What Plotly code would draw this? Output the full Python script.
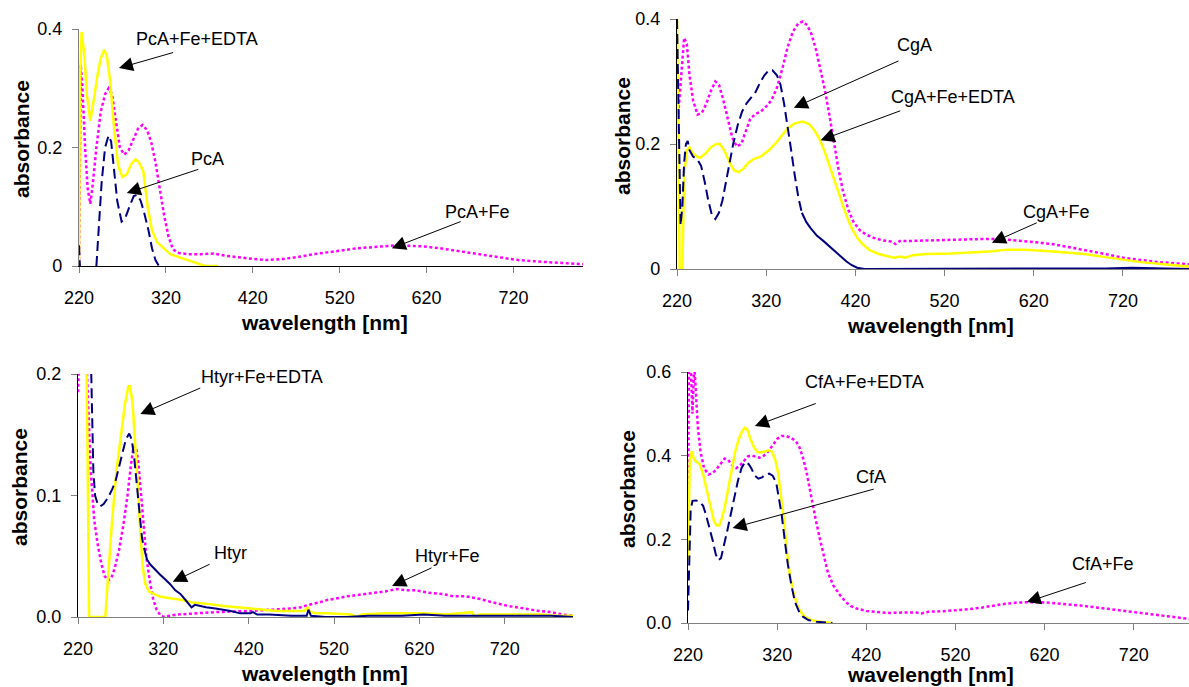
import plotly.graph_objects as go

W, H = 1189, 687

# ---------------- DATA ----------------
# Panel A: PcA
pca_edta_wl = [220, 221, 223, 226, 229, 233, 237, 241, 245, 249, 252, 256, 260, 265, 270, 275, 280, 285, 289, 294, 299, 304, 310, 317, 325, 335, 345, 357, 365, 380]
pca_edta_ab = [0.0, 0.3, 0.395, 0.36, 0.29, 0.245, 0.28, 0.32, 0.35, 0.365, 0.355, 0.31, 0.24, 0.17, 0.15, 0.155, 0.172, 0.18, 0.175, 0.16, 0.1, 0.06, 0.04, 0.03, 0.02, 0.015, 0.01, 0.005, 0.0, 0.0]

pca_fe_wl = [220, 221, 222, 224, 227, 230, 233, 236, 240, 245, 250, 254, 258, 262, 267, 272, 277, 283, 288, 293, 298, 303, 308, 313, 318, 323, 328, 335, 345, 360, 375, 390, 405, 420, 436, 455, 471, 490, 516, 540, 560, 586, 600, 617, 635, 657, 680, 701, 725, 754, 775, 800]
pca_fe_ab = [0.0, 0.2, 0.34, 0.3, 0.2, 0.13, 0.105, 0.14, 0.2, 0.26, 0.29, 0.3, 0.29, 0.25, 0.2, 0.188, 0.195, 0.215, 0.232, 0.238, 0.23, 0.21, 0.175, 0.13, 0.085, 0.05, 0.028, 0.022, 0.02, 0.02, 0.021, 0.017, 0.014, 0.012, 0.01, 0.012, 0.015, 0.02, 0.025, 0.03, 0.032, 0.035, 0.034, 0.033, 0.03, 0.025, 0.02, 0.015, 0.01, 0.007, 0.005, 0.003]

pca_wl = [220, 221, 222, 240, 243, 246, 250, 254, 257, 260, 264, 269, 273, 278, 283, 287, 291, 295, 300, 304, 308, 312]
pca_ab = [0.035, 0.0, None, 0.0, 0.07, 0.14, 0.2, 0.22, 0.21, 0.17, 0.11, 0.075, 0.08, 0.1, 0.118, 0.12, 0.11, 0.09, 0.06, 0.03, 0.01, 0.0]

# Panel B: CgA
cga_edta_wl = [220, 222, 223, 226, 228, 231, 234, 238, 242, 246, 252, 258, 264, 268, 273, 279, 284, 289, 294, 300, 306, 314, 323, 330, 338, 344, 352, 361, 368, 374, 379, 385, 391, 398, 404, 410, 416, 422, 428, 436, 446, 455, 463, 470, 476, 484, 500, 527, 550, 570, 591, 610, 634, 655, 677, 700, 720, 740, 763, 790, 800]
cga_edta_ab = [0.4, 0.1, 0.0, 0.0, 0.15, 0.19, 0.195, 0.185, 0.18, 0.178, 0.185, 0.195, 0.2, 0.2, 0.19, 0.17, 0.158, 0.155, 0.16, 0.17, 0.176, 0.18, 0.19, 0.2, 0.215, 0.225, 0.233, 0.236, 0.232, 0.222, 0.21, 0.19, 0.165, 0.135, 0.11, 0.085, 0.065, 0.05, 0.04, 0.03, 0.024, 0.021, 0.018, 0.02, 0.018, 0.022, 0.024, 0.025, 0.026, 0.028, 0.031, 0.031, 0.029, 0.027, 0.024, 0.019, 0.015, 0.011, 0.008, 0.004, 0.003]

cga_fe_wl = [221, 224, 228, 231, 234, 238, 243, 248, 253, 258, 263, 267, 272, 277, 282, 287, 292, 297, 302, 308, 314, 320, 326, 332, 338, 344, 350, 356, 361, 366, 371, 376, 381, 386, 391, 396, 401, 406, 412, 418, 425, 432, 440, 450, 460, 465, 470, 484, 505, 527, 545, 563, 580, 600, 620, 640, 660, 680, 700, 720, 740, 760, 780, 800]
cga_fe_ab = [0.24, 0.3, 0.37, 0.36, 0.31, 0.27, 0.247, 0.25, 0.265, 0.285, 0.3, 0.295, 0.27, 0.24, 0.21, 0.196, 0.2, 0.22, 0.24, 0.248, 0.252, 0.26, 0.27, 0.29, 0.32, 0.355, 0.38, 0.393, 0.396, 0.39, 0.375, 0.35, 0.32, 0.285, 0.245, 0.2, 0.16, 0.125, 0.095, 0.075, 0.062, 0.055, 0.05, 0.046, 0.044, 0.04, 0.045, 0.045, 0.046, 0.046, 0.047, 0.048, 0.048, 0.046, 0.043, 0.04, 0.035, 0.03, 0.024, 0.018, 0.014, 0.011, 0.009, 0.007]

cga_wl = [220, 221, 222.5, 224, 226, 228, 230, 232, 234, 238, 243, 247, 251, 255, 259, 263, 267, 271, 275, 279, 283, 288, 293, 298, 303, 308, 313, 318, 323, 327, 332, 336, 340, 344, 348, 352, 356, 360, 365, 370, 377, 384, 391, 398, 404, 410, 416, 422, 430, 500, 600, 700, 730, 800]
cga_ab = [0.4, 0.3, 0.15, 0.07, 0.1, 0.17, 0.2, 0.205, 0.19, 0.18, 0.175, 0.165, 0.14, 0.11, 0.087, 0.08, 0.09, 0.11, 0.14, 0.17, 0.2, 0.23, 0.252, 0.265, 0.275, 0.283, 0.298, 0.31, 0.318, 0.318, 0.31, 0.295, 0.265, 0.23, 0.19, 0.15, 0.115, 0.09, 0.075, 0.065, 0.053, 0.045, 0.036, 0.028, 0.019, 0.012, 0.006, 0.002, 0.0, 0.0, 0.0, 0.001, 0.002, 0.0]

# Panel C: Htyr
htyr_edta_wl = [229, 231, 233, 252, 256, 260, 265, 270, 275, 279, 281, 284, 287, 290, 293, 296, 299, 303, 309, 315, 322, 331, 342, 354, 370, 390, 405, 422, 440, 453, 470, 485, 489, 492, 500, 512, 540, 547, 552, 580, 600, 625, 650, 682, 685, 690, 715, 740, 761, 780, 800]
htyr_edta_ab = [0.25, 0.15, 0.0, 0.0, 0.04, 0.08, 0.12, 0.15, 0.175, 0.19, 0.19, 0.175, 0.145, 0.11, 0.07, 0.04, 0.027, 0.021, 0.019, 0.017, 0.016, 0.015, 0.014, 0.012, 0.011, 0.009, 0.008, 0.007, 0.006, 0.005, 0.005, 0.005, 0.008, 0.004, 0.003, 0.003, 0.002, 0.0, 0.002, 0.003, 0.003, 0.003, 0.002, 0.004, 0.0, 0.002, 0.002, 0.002, 0.002, 0.001, 0.001]

htyr_fe_wl = [220, 221, 230, 232, 235, 239, 243, 247, 251, 255, 259, 263, 268, 273, 278, 282, 285, 288, 291, 294, 297, 300, 304, 308, 312, 317, 322, 327, 336, 354, 381, 422, 453, 470, 481, 490, 503, 512, 521, 535, 557, 580, 593, 605, 616, 630, 647, 660, 675, 690, 706, 725, 743, 760, 774, 788, 800]
htyr_fe_ab = [0.185, 0.21, 0.21, 0.17, 0.12, 0.08, 0.06, 0.045, 0.034, 0.03, 0.032, 0.04, 0.055, 0.075, 0.1, 0.125, 0.14, 0.14, 0.125, 0.1, 0.075, 0.05, 0.03, 0.015, 0.006, 0.001, 0.0, 0.001, 0.002, 0.003, 0.004, 0.005, 0.006, 0.007, 0.008, 0.01, 0.012, 0.014, 0.015, 0.017, 0.019, 0.021, 0.023, 0.022, 0.022, 0.02, 0.019, 0.017, 0.017, 0.015, 0.012, 0.009, 0.007, 0.005, 0.004, 0.002, 0.001]

htyr_wl = [234, 236, 238, 240, 243, 246, 250, 255, 260, 264, 268, 272, 276, 280, 283, 286, 289, 292, 295, 298, 301, 305, 310, 316, 322, 328, 334, 340, 346, 350, 353, 357, 362, 370, 381, 390, 399, 410, 422, 425, 430, 444, 470, 488, 490, 493, 510, 535, 560, 580, 600, 625, 650, 680, 700, 720, 750, 775, 800]
htyr_ab = [0.25, 0.17, 0.12, 0.1, 0.093, 0.091, 0.093, 0.098, 0.105, 0.112, 0.123, 0.135, 0.146, 0.151, 0.146, 0.13, 0.11, 0.085, 0.065, 0.055, 0.047, 0.043, 0.039, 0.035, 0.031, 0.027, 0.022, 0.019, 0.014, 0.01, 0.008, 0.01, 0.009, 0.008, 0.007, 0.006, 0.005, 0.003, 0.003, 0.004, 0.002, 0.002, 0.001, 0.001, 0.006, 0.001, 0.0, 0.0, 0.001, 0.001, 0.001, 0.002, 0.001, 0.001, 0.001, 0.001, 0.001, 0.001, 0.0]

# Panel D: CfA
cfa_edta_wl = [220, 221, 222, 224, 227, 230, 233, 237, 241, 245, 249, 252, 255, 258, 261, 265, 269, 273, 277, 281, 284, 287, 290, 294, 298, 302, 306, 310, 314, 318, 321, 324, 328, 331, 334, 338, 343, 347, 351, 357, 364, 372, 382]
cfa_edta_ab = [0.15, 0.3, 0.39, 0.41, 0.39, 0.385, 0.38, 0.355, 0.32, 0.28, 0.245, 0.233, 0.233, 0.25, 0.275, 0.32, 0.37, 0.41, 0.44, 0.46, 0.467, 0.46, 0.44, 0.42, 0.408, 0.408, 0.41, 0.413, 0.41, 0.39, 0.36, 0.31, 0.24, 0.17, 0.12, 0.075, 0.04, 0.025, 0.015, 0.008, 0.004, 0.002, 0.0]

cfa_fe_wl = [220, 221, 223, 225, 227, 229, 231, 234, 238, 243, 247, 251, 256, 261, 265, 270, 274, 279, 283, 287, 292, 296, 300, 305, 310, 315, 320, 325, 330, 335, 341, 345, 349, 353, 358, 363, 368, 373, 377, 383, 390, 397, 403, 410, 420, 433, 446, 460, 476, 482, 490, 505, 520, 535, 550, 563, 576, 590, 600, 615, 627, 645, 660, 675, 690, 705, 720, 735, 750, 765, 783, 800]
cfa_fe_ab = [0.2, 0.62, 0.62, 0.5, 0.62, 0.55, 0.47, 0.41, 0.37, 0.355, 0.358, 0.365, 0.38, 0.393, 0.39, 0.375, 0.37, 0.378, 0.388, 0.398, 0.4, 0.398, 0.395, 0.4, 0.41, 0.425, 0.44, 0.447, 0.447, 0.443, 0.435, 0.42, 0.395, 0.36, 0.3, 0.25, 0.2, 0.155, 0.12, 0.09, 0.068, 0.05, 0.04, 0.034, 0.029, 0.026, 0.024, 0.025, 0.025, 0.023, 0.027, 0.028, 0.03, 0.033, 0.037, 0.042, 0.046, 0.049, 0.05, 0.05, 0.048, 0.045, 0.042, 0.038, 0.034, 0.03, 0.026, 0.022, 0.018, 0.013, 0.008, 0.005]

cfa_wl = [220, 221, 222, 223, 225, 229, 233, 237, 240, 244, 248, 251, 254, 257, 260, 264, 268, 272, 276, 280, 284, 288, 291, 295, 299, 303, 307, 311, 315, 319, 322, 325, 329, 332, 336, 340, 345, 349, 355, 364, 375, 382]
cfa_ab = [0.03, 0.1, 0.2, 0.27, 0.292, 0.293, 0.29, 0.28, 0.26, 0.23, 0.195, 0.165, 0.15, 0.155, 0.18, 0.22, 0.26, 0.3, 0.34, 0.37, 0.385, 0.38, 0.37, 0.352, 0.345, 0.348, 0.355, 0.357, 0.352, 0.335, 0.3, 0.26, 0.19, 0.14, 0.09, 0.05, 0.025, 0.015, 0.007, 0.003, 0.001, 0.0]

x_tickvals = [220, 320, 420, 520, 620, 720]

# ---------------- STYLE / LAYOUT ----------------
FONT = "Liberation Sans, Arial, sans-serif"
YELLOW, MAGENTA, NAVY = "#FFFF00", "#FF00FF", "#000080"

panels = [
    dict(dom_x=(79, 583), dom_y=(29, 266), xr=[220, 800], yr=[0, 0.4],
         yt=[0, 0.2, 0.4], ytt=["0", "0.2", "0.4"],
         xline="#000000", yline="#808080",
         mag=(pca_fe_wl, pca_fe_ab), yel=(pca_edta_wl, pca_edta_ab), nav=(pca_wl, pca_ab), solid_from=None,
         xtitle=(324, 322), ytitle=(21, 139),
         labels=[("PcA+Fe+EDTA", (356, 0.383), (330, 0.361), (266, 0.334)),
                 ("PcA", (368, 0.181), (359, 0.164), (275, 0.123)),
                 ("PcA+Fe", (679, 0.091), (661, 0.076), (580, 0.030))]),
    dict(dom_x=(677, 1189), dom_y=(19, 269), xr=[220, 794], yr=[0, 0.4],
         yt=[0, 0.2, 0.4], ytt=["0", "0.2", "0.4"],
         xline="#808080", yline="#000000",
         mag=(cga_fe_wl, cga_fe_ab), yel=(cga_edta_wl, cga_edta_ab), nav=(cga_wl, cga_ab), solid_from=360,
         xtitle=(930, 325), ytitle=(623, 136),
         labels=[("CgA", (486, 0.358), (470, 0.334), (351, 0.258)),
                 ("CgA+Fe+EDTA", (529, 0.275), (472, 0.254), (381, 0.206)),
                 ("CgA+Fe", (646, 0.091), (625, 0.075), (573, 0.042))]),
    dict(dom_x=(78, 573), dom_y=(374, 617), xr=[220, 800], yr=[0, 0.2],
         yt=[0, 0.1, 0.2], ytt=["0.0", "0.1", "0.2"],
         xline="#808080", yline="#000000",
         mag=(htyr_fe_wl, htyr_fe_ab), yel=(htyr_edta_wl, htyr_edta_ab), nav=(htyr_wl, htyr_ab), solid_from=298,
         xtitle=(324, 673), ytitle=(19, 487),
         labels=[("Htyr+Fe+EDTA", (436, 0.1975), (365, 0.189), (293, 0.167)),
                 ("Htyr", (399, 0.053), (376, 0.044), (331, 0.029)),
                 ("Htyr+Fe", (653, 0.050), (636, 0.041), (588, 0.0255))]),
    dict(dom_x=(688, 1189), dom_y=(372, 623), xr=[220, 782], yr=[0, 0.6],
         yt=[0, 0.2, 0.4, 0.6], ytt=["0.0", "0.2", "0.4", "0.6"],
         xline="#808080", yline="#000000",
         mag=(cfa_fe_wl, cfa_fe_ab), yel=(cfa_edta_wl, cfa_edta_ab), nav=(cfa_wl, cfa_ab), solid_from=None,
         xtitle=(930, 674), ytitle=(627, 489),
         labels=[("CfA+Fe+EDTA", (418, 0.577), (365, 0.526), (295, 0.471)),
                 ("CfA", (425, 0.349), (430, 0.321), (270, 0.227)),
                 ("CfA+Fe", (685, 0.141), (668, 0.098), (600, 0.050))]),
]

fig = go.Figure()
layout = dict(width=W, height=H, margin=dict(l=0, r=0, t=0, b=0, pad=0),
              paper_bgcolor="white", plot_bgcolor="white", showlegend=False,
              font=dict(family=FONT, size=18, color="black"))
annotations = []

for i, p in enumerate(panels):
    sx = "" if i == 0 else str(i + 1)
    xref, yref = "x" + sx, "y" + sx
    fig.add_trace(go.Scatter(x=p["mag"][0], y=p["mag"][1], mode="lines", xaxis=xref, yaxis=yref,
                             line=dict(color=MAGENTA, width=2.5, dash="3px,2.5px")))
    fig.add_trace(go.Scatter(x=p["yel"][0], y=p["yel"][1], mode="lines", xaxis=xref, yaxis=yref,
                             line=dict(color=YELLOW, width=2.5)))
    nwl, nab = p["nav"]
    if p["solid_from"] is None:
        fig.add_trace(go.Scatter(x=nwl, y=nab, mode="lines", xaxis=xref, yaxis=yref,
                                 line=dict(color=NAVY, width=2, dash="10px,5px")))
    else:
        k = next(j for j, w in enumerate(nwl) if w >= p["solid_from"])
        fig.add_trace(go.Scatter(x=nwl[:k + 1], y=nab[:k + 1], mode="lines", xaxis=xref, yaxis=yref,
                                 line=dict(color=NAVY, width=2, dash="10px,5px")))
        fig.add_trace(go.Scatter(x=nwl[k:], y=nab[k:], mode="lines", xaxis=xref, yaxis=yref,
                                 line=dict(color=NAVY, width=2)))

    x0, x1 = p["dom_x"]
    ytop, ybot = p["dom_y"]
    layout["xaxis" + sx] = dict(domain=[x0 / W, x1 / W], range=p["xr"], anchor=yref,
                                tickvals=x_tickvals, ticks="outside", ticklen=6, tickcolor="#808080",
                                showline=True, linecolor=p["xline"], linewidth=1.2,
                                showgrid=False, zeroline=False, automargin=False,
                                tickfont=dict(family=FONT, size=18, color="black"),
                                ticklabelstandoff=9)
    layout["yaxis" + sx] = dict(domain=[1 - ybot / H, 1 - ytop / H], range=p["yr"], anchor=xref,
                                tickvals=p["yt"], ticktext=p["ytt"], ticks="outside", ticklen=6,
                                tickcolor="#808080", showline=True, linecolor=p["yline"], linewidth=1.2,
                                showgrid=False, zeroline=False, automargin=False,
                                tickfont=dict(family=FONT, size=18, color="black"),
                                ticklabelstandoff=6)
    tx, ty = p["xtitle"]
    annotations.append(dict(text="<b>wavelength [nm]</b>", xref="paper", yref="paper",
                            x=tx / W, y=1 - ty / H, xanchor="center", yanchor="middle",
                            showarrow=False, font=dict(family=FONT, size=21, color="black")))
    tx, ty = p["ytitle"]
    annotations.append(dict(text="<b>absorbance</b>", xref="paper", yref="paper", textangle=-90,
                            x=tx / W, y=1 - ty / H, xanchor="center", yanchor="middle",
                            showarrow=False, font=dict(family=FONT, size=21, color="black")))
    for text, tpos, tail, tip in p["labels"]:
        annotations.append(dict(text=text, xref=xref, yref=yref, x=tpos[0], y=tpos[1],
                                xanchor="center", yanchor="middle", showarrow=False,
                                font=dict(family=FONT, size=18, color="black")))
        annotations.append(dict(text="", xref=xref, yref=yref, x=tip[0], y=tip[1],
                                axref=xref, ayref=yref, ax=tail[0], ay=tail[1],
                                showarrow=True, arrowhead=2, arrowsize=2.8, arrowwidth=1,
                                arrowcolor="black", standoff=0, startstandoff=0))

layout["annotations"] = annotations
fig.update_layout(**layout)
fig.write_html("out.html", config={"displayModeBar": False},
               post_script="document.body.style.margin='0';document.body.style.overflow='hidden';")
